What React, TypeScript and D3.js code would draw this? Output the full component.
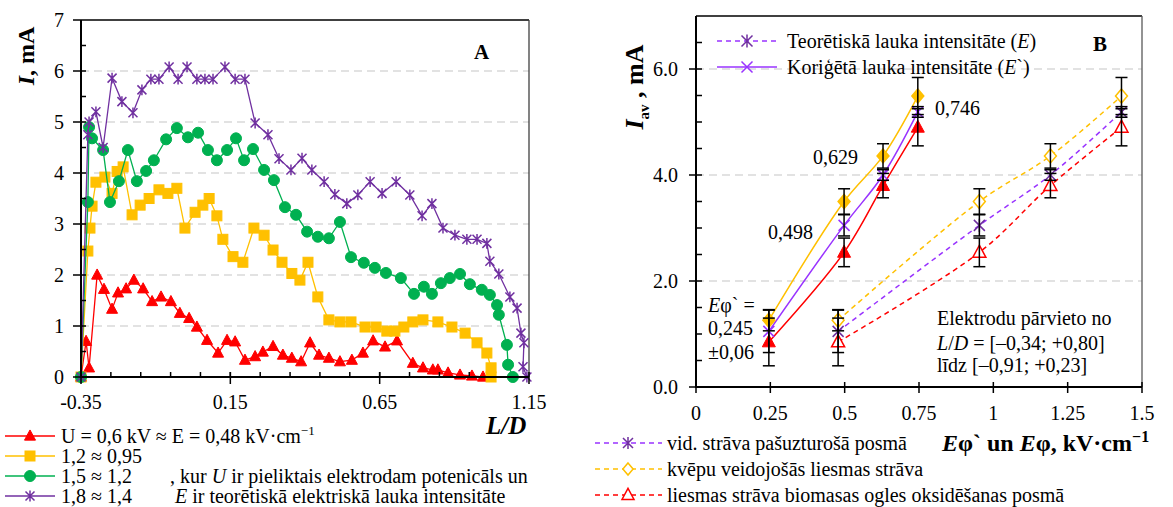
import * as d3 from 'd3';

const W = 1173;
const H = 507;
const FONT = '"Liberation Serif", "Times New Roman", serif';

// ---- panel A: I vs L/D, four voltages ----
const red06: [number, number][] = [
  [-0.35, 0], [-0.333, 0.7], [-0.323, 0.18], [-0.296, 2.0], [-0.273, 1.72], [-0.246, 1.33],
  [-0.226, 1.65], [-0.199, 1.73], [-0.173, 1.9], [-0.142, 1.73], [-0.112, 1.48], [-0.082, 1.57],
  [-0.049, 1.48], [-0.019, 1.25], [0.012, 1.15], [0.038, 0.98], [0.072, 0.72], [0.109, 0.47],
  [0.139, 0.72], [0.166, 0.69], [0.199, 0.33], [0.233, 0.4], [0.259, 0.49], [0.293, 0.6],
  [0.326, 0.43], [0.356, 0.37], [0.387, 0.3], [0.417, 0.67], [0.447, 0.43], [0.48, 0.37],
  [0.517, 0.3], [0.557, 0.33], [0.594, 0.47], [0.628, 0.71], [0.668, 0.59], [0.708, 0.71],
  [0.761, 0.27], [0.795, 0.18], [0.828, 0.14], [0.845, 0.14], [0.879, 0.08], [0.919, 0.04],
  [0.959, 0.02], [0.996, 0],
];
const yel12: [number, number][] = [
  [-0.35, 0], [-0.327, 2.47], [-0.32, 2.92], [-0.313, 3.35], [-0.3, 3.82], [-0.27, 3.92],
  [-0.246, 3.6], [-0.229, 4.03], [-0.209, 4.12], [-0.179, 3.18], [-0.152, 3.37], [-0.122, 3.5],
  [-0.089, 3.67], [-0.059, 3.6], [-0.029, 3.7], [-0.002, 2.92], [0.032, 3.23], [0.058, 3.37],
  [0.079, 3.5], [0.105, 3.16], [0.125, 2.7], [0.159, 2.36], [0.192, 2.25], [0.229, 2.92],
  [0.263, 2.78], [0.293, 2.49], [0.323, 2.25], [0.356, 2.03], [0.383, 1.9], [0.41, 2.25],
  [0.443, 1.57], [0.48, 1.12], [0.517, 1.08], [0.554, 1.08], [0.601, 0.98], [0.638, 0.98],
  [0.674, 0.9], [0.701, 0.9], [0.731, 0.98], [0.761, 1.08], [0.795, 1.12], [0.845, 1.08],
  [0.892, 0.98], [0.936, 0.86], [0.976, 0.67], [1.009, 0.47], [1.023, 0.18], [1.023, 0],
];
const grn15: [number, number][] = [
  [-0.35, 0], [-0.327, 3.43], [-0.323, 4.9], [-0.313, 4.68], [-0.276, 4.45], [-0.253, 3.43],
  [-0.223, 3.84], [-0.193, 4.45], [-0.163, 3.84], [-0.132, 4.04], [-0.106, 4.25], [-0.065, 4.66],
  [-0.029, 4.88], [0.008, 4.7], [0.042, 4.79], [0.075, 4.45], [0.105, 4.25], [0.139, 4.45],
  [0.169, 4.68], [0.196, 4.25], [0.226, 4.47], [0.263, 4.06], [0.296, 3.86], [0.333, 3.33],
  [0.37, 3.18], [0.407, 2.85], [0.443, 2.75], [0.48, 2.72], [0.517, 3.04], [0.554, 2.35],
  [0.597, 2.24], [0.634, 2.14], [0.671, 2.04], [0.721, 1.94], [0.765, 1.63], [0.798, 1.77],
  [0.825, 1.63], [0.855, 1.84], [0.885, 1.94], [0.919, 2.02], [0.952, 1.82], [0.992, 1.71],
  [1.019, 1.61], [1.043, 1.41], [1.049, 1.22], [1.076, 0.63], [1.08, 0.24], [1.096, 0],
];
const pur18: [number, number][] = [
  [-0.35, 0], [-0.327, 4.75], [-0.323, 5.0], [-0.3, 5.2], [-0.276, 4.5], [-0.246, 5.86],
  [-0.213, 5.4], [-0.176, 5.18], [-0.146, 5.63], [-0.116, 5.84], [-0.089, 5.84], [-0.055, 6.08],
  [-0.025, 5.84], [0.005, 6.08], [0.038, 5.84], [0.065, 5.84], [0.092, 5.84], [0.132, 6.08],
  [0.166, 5.84], [0.199, 5.84], [0.233, 4.98], [0.276, 4.75], [0.313, 4.28], [0.353, 4.06],
  [0.39, 4.29], [0.423, 4.06], [0.464, 3.83], [0.5, 3.58], [0.54, 3.4], [0.577, 3.57],
  [0.618, 3.83], [0.658, 3.6], [0.705, 3.83], [0.751, 3.57], [0.792, 3.16], [0.825, 3.4],
  [0.862, 2.92], [0.902, 2.78], [0.942, 2.7], [0.976, 2.7], [1.009, 2.62], [1.019, 2.27],
  [1.049, 2.02], [1.086, 1.57], [1.11, 1.35], [1.123, 0.86], [1.133, 0.67], [1.13, 0.2],
  [1.143, 0],
];
const xTicksA = [-0.35, 0.15, 0.65, 1.15];
const xLabelsA = ['-0.35', '0.15', '0.65', '1.15'];
const yTicksA = [0, 1, 2, 3, 4, 5, 6, 7];

// ---- panel B: I_av vs E-phi ----
const ePhiCorr = [0.245, 0.498, 0.629, 0.746];
const ePhiTheor = [0.478, 0.953, 1.192, 1.431];
const iSoot = [1.26, 3.5, 4.36, 5.49];
const iAvg = [1.05, 3.05, 4.0, 5.19];
const iOxid = [0.85, 2.54, 3.8, 4.9];
const errSoot = [0.2, 0.24, 0.23, 0.35];
const errAvg = [0.4, 0.2, 0.1, 0.1];
const errOxid = [0.45, 0.27, 0.23, 0.35];
const xTicksB = [0, 0.25, 0.5, 0.75, 1, 1.25, 1.5];
const xLabelsB = ['0', '0.25', '0.5', '0.75', '1', '1.25', '1.5'];
const yTicksB = [0, 2, 4, 6];
const yLabelsB = ['0.0', '2.0', '4.0', '6.0'];

const RED = '#FF0000';
const YEL = '#FFC000';
const GRN = '#00B050';
const PUR = '#7030A0';
const VIO = '#9933FF';
const GRID = '#D9D9D9';

const xA = d3.scaleLinear().domain([-0.35, 1.15]).range([81, 529]);
const yA = d3.scaleLinear().domain([0, 7]).range([377, 20]);
const xB = d3.scaleLinear().domain([0, 1.5]).range([696, 1142]);
const yB = d3.scaleLinear().domain([0, 7]).range([387, 16]);

type MType = 'tri' | 'sq' | 'circ' | 'star' | 'x' | 'diam';

function Marker({ t, x, y, c, s, hollow }: { t: MType; x: number; y: number; c: string; s: number; hollow?: boolean }) {
  const fill = hollow ? '#fff' : c;
  const h = s / 2;
  if (t === 'tri') {
    return <path d={`M${x},${y - h * 1.1}L${x + h},${y + h * 0.75}L${x - h},${y + h * 0.75}Z`} fill={fill} stroke={c} strokeWidth={hollow ? 1.5 : 1} />;
  }
  if (t === 'sq') return <rect x={x - h} y={y - h} width={s} height={s} fill={fill} stroke={c} />;
  if (t === 'circ') return <circle cx={x} cy={y} r={h} fill={fill} stroke={c} />;
  if (t === 'diam') {
    return <path d={`M${x},${y - h}L${x + h * 0.85},${y}L${x},${y + h}L${x - h * 0.85},${y}Z`} fill={fill} stroke={c} strokeWidth={1.5} />;
  }
  const d = `M${x - h},${y - h}L${x + h},${y + h}M${x - h},${y + h}L${x + h},${y - h}` + (t === 'star' ? `M${x},${y - h * 1.2}L${x},${y + h * 1.2}` : '');
  return <path d={d} stroke={c} strokeWidth={1.5} fill="none" />;
}

const lineA = d3.line<[number, number]>().x(d => xA(d[0])).y(d => yA(d[1]));

export default function App() {
  const seriesA: { data: [number, number][]; c: string; t: MType; s: number }[] = [
    { data: red06, c: RED, t: 'tri', s: 11 },
    { data: yel12, c: YEL, t: 'sq', s: 10 },
    { data: grn15, c: GRN, t: 'circ', s: 11 },
    { data: pur18, c: PUR, t: 'star', s: 9 },
  ];
  const legRowsA = [436, 456, 476, 496];

  const lineB = d3.line<number>().curve(d3.curveCatmullRom.alpha(0.5));
  const seriesB = [
    { v: iSoot, e: errSoot, c: YEL, t: 'diam' as MType, s: 14 },
    { v: iAvg, e: errAvg, c: VIO, t: 'x' as MType, s: 11 },
    { v: iOxid, e: errOxid, c: RED, t: 'tri' as MType, s: 13 },
  ];
  const pathB = (xs: number[], vs: number[]) =>
    lineB.x((_, i) => xB(xs[i])).y(d => yB(d))(vs) || '';

  const minorA = d3.range(0, 14).map(i => -0.35 + i * 0.1);
  const minorYA = d3.range(0, 14).map(i => 0.5 + i * 0.5).filter(v => v < 7);
  const minorYB = d3.range(1, 14).map(i => i * 0.5);

  return (
    <svg width={W} height={H} style={{ position: 'absolute', left: 0, top: 0, background: '#fff' }} fontFamily={FONT}>
      {/* ===== Panel A ===== */}
      {yTicksA.filter(v => v > 0 && v < 7).map(v => (
        <line key={'ga' + v} x1={xA(-0.35)} x2={xA(1.15)} y1={yA(v)} y2={yA(v)} stroke={GRID} strokeWidth={1.5} strokeDasharray="8,5" />
      ))}
      <line x1={81} x2={529} y1={yA(7)} y2={yA(7)} stroke="#000" strokeWidth={1.3} />
      <line x1={xA(1.15)} x2={xA(1.15)} y1={yA(7)} y2={yA(0)} stroke="#404040" strokeWidth={1.3} />
      {seriesA.map((s, i) => (
        <g key={'sa' + i}>
          <path d={lineA(s.data) || ''} fill="none" stroke={s.c} strokeWidth={1.3} />
          {s.data.map((d, j) => <Marker key={j} t={s.t} x={xA(d[0])} y={yA(d[1])} c={s.c} s={s.s} />)}
        </g>
      ))}
      <line x1={xA(-0.35)} x2={xA(-0.35)} y1={yA(7)} y2={yA(0) + 1} stroke="#000" strokeWidth={2} />
      <line x1={xA(-0.35) - 1} x2={xA(1.15)} y1={yA(0)} y2={yA(0)} stroke="#000" strokeWidth={2} />
      {yTicksA.map(v => (
        <g key={'ya' + v}>
          <line x1={xA(-0.35) - 8} x2={xA(-0.35)} y1={yA(v)} y2={yA(v)} stroke="#000" strokeWidth={1.5} />
          <text x={64} y={yA(v) + 7} fontSize={20} textAnchor="end">{v}</text>
        </g>
      ))}
      {minorYA.map(v => (
        <line key={'mya' + v} x1={xA(-0.35)} x2={xA(-0.35) + 5} y1={yA(v)} y2={yA(v)} stroke="#000" strokeWidth={1.5} />
      ))}
      {minorA.map(v => (
        <line key={'mxa' + v} x1={xA(v)} x2={xA(v)} y1={yA(0) - 5} y2={yA(0)} stroke="#000" strokeWidth={1.5} />
      ))}
      {xTicksA.map((v, i) => (
        <g key={'xa' + v}>
          <line x1={xA(v)} x2={xA(v)} y1={yA(0) - 5} y2={yA(0) + 7} stroke="#000" strokeWidth={1.5} />
          <text x={xA(v)} y={409} fontSize={20} textAnchor="middle">{xLabelsA[i]}</text>
        </g>
      ))}
      <text x={474} y={59} fontSize={21} fontWeight="bold">A</text>
      <text x={34} y={56} fontSize={24} fontWeight="bold" textAnchor="middle" transform="rotate(-90,34,56)">
        <tspan fontStyle="italic">I</tspan>, mA
      </text>
      <text x={486} y={434} fontSize={25} fontWeight="bold" fontStyle="italic">L/D</text>

      {/* legend A */}
      {seriesA.map((s, i) => {
        const y = legRowsA[i];
        return (
          <g key={'la' + i}>
            <line x1={5} x2={55} y1={y} y2={y} stroke={s.c} strokeWidth={1.5} />
            <Marker t={s.t} x={30} y={y} c={s.c} s={s.s} />
          </g>
        );
      })}
      <text x={61} y={legRowsA[0] + 7} fontSize={20}>U = 0,6 kV ≈ E = 0,48 kV·cm<tspan dy={-8} fontSize={13}>−1</tspan></text>
      <text x={61} y={legRowsA[1] + 7} fontSize={20}>1,2 ≈ 0,95</text>
      <text x={61} y={legRowsA[2] + 7} fontSize={20}>1,5 ≈ 1,2</text>
      <text x={61} y={legRowsA[3] + 7} fontSize={20}>1,8 ≈ 1,4</text>
      <text x={170} y={legRowsA[2] + 7} fontSize={20}>, kur <tspan fontStyle="italic">U</tspan> ir pieliktais elektrodam potenicāls un</text>
      <text x={175} y={legRowsA[3] + 7} fontSize={20}><tspan fontStyle="italic">E</tspan> ir teorētiskā elektriskā lauka intensitāte</text>

      {/* ===== Panel B ===== */}
      {yTicksB.filter(v => v > 0).map(v => (
        <line key={'gb' + v} x1={xB(0)} x2={xB(1.5)} y1={yB(v)} y2={yB(v)} stroke={GRID} strokeWidth={1.5} strokeDasharray="8,5" />
      ))}
      <line x1={696} x2={1142} y1={yB(7)} y2={yB(7)} stroke="#000" strokeWidth={1.3} />
      <line x1={xB(1.5)} x2={xB(1.5)} y1={yB(7)} y2={yB(0)} stroke="#595959" strokeWidth={1.3} />
      {seriesB.map((s, i) => (
        <g key={'lb' + i}>
          <path d={pathB(ePhiCorr, s.v)} fill="none" stroke={s.c} strokeWidth={1.5} />
          <path d={pathB(ePhiTheor, s.v)} fill="none" stroke={s.c} strokeWidth={1.5} strokeDasharray="5,4" />
        </g>
      ))}
      {seriesB.map((s, i) => (
        <g key={'mb' + i}>
          {s.v.map((v, j) => <Marker key={'c' + j} t={s.t} x={xB(ePhiCorr[j])} y={yB(v)} c={s.c} s={s.s} />)}
          {s.v.map((v, j) => (
            <Marker key={'t' + j} t={s.t === 'x' ? 'star' : s.t} x={xB(ePhiTheor[j])} y={yB(v)} c={s.t === 'x' ? PUR : s.c} s={s.s} hollow={s.t !== 'x'} />
          ))}
        </g>
      ))}
      {seriesB.map((s, i) => (
        <g key={'eb' + i}>
          {[...ePhiCorr, ...ePhiTheor].map((e, j) => {
            const v = s.v[j % 4];
            const er = s.e[j % 4];
            const cx = xB(e);
            return (
              <g key={j}>
                <line x1={cx} x2={cx} y1={yB(v + er)} y2={yB(v - er)} stroke="#000" strokeWidth={1.5} />
                <line x1={cx - 6} x2={cx + 6} y1={yB(v + er)} y2={yB(v + er)} stroke="#000" strokeWidth={1.5} />
                <line x1={cx - 6} x2={cx + 6} y1={yB(v - er)} y2={yB(v - er)} stroke="#000" strokeWidth={1.5} />
              </g>
            );
          })}
        </g>
      ))}
      <line x1={xB(0)} x2={xB(0)} y1={yB(7)} y2={yB(0) + 1} stroke="#000" strokeWidth={2} />
      <line x1={xB(0) - 1} x2={xB(1.5)} y1={yB(0)} y2={yB(0)} stroke="#000" strokeWidth={2} />
      {yTicksB.map((v, i) => (
        <g key={'yb' + v}>
          <line x1={xB(0) - 7} x2={xB(0)} y1={yB(v)} y2={yB(v)} stroke="#000" strokeWidth={1.5} />
          <text x={678} y={yB(v) + 7} fontSize={20} textAnchor="end">{yLabelsB[i]}</text>
        </g>
      ))}
      {minorYB.map(v => (
        <line key={'myb' + v} x1={xB(0)} x2={xB(0) + 6} y1={yB(v)} y2={yB(v)} stroke="#000" strokeWidth={1.5} />
      ))}
      {xTicksB.map((v, i) => (
        <g key={'xb' + v}>
          <line x1={xB(v)} x2={xB(v)} y1={yB(0) - 5} y2={yB(0) + 6} stroke="#000" strokeWidth={1.5} />
          <text x={xB(v)} y={420} fontSize={20} textAnchor="middle">{xLabelsB[i]}</text>
        </g>
      ))}
      <text x={1093} y={51} fontSize={21} fontWeight="bold">B</text>
      <text x={643} y={87} fontSize={26} fontWeight="bold" textAnchor="middle" transform="rotate(-90,643,87)">
        <tspan fontStyle="italic">I</tspan><tspan fontSize={15} dy={6}>av</tspan><tspan dy={-6}> , mA</tspan>
      </text>
      <text x={942} y={451} fontSize={24} fontWeight="bold">
        <tspan fontStyle="italic">E</tspan>φ` un <tspan fontStyle="italic">E</tspan>φ, kV·cm<tspan dy={-9} fontSize={16}>−1</tspan>
      </text>

      {/* legend inside B */}
      <line x1={717} x2={777} y1={41} y2={41} stroke={VIO} strokeWidth={1.5} strokeDasharray="5,4" />
      <Marker t="star" x={747} y={41} c={PUR} s={11} />
      <text x={787} y={48} fontSize={20}>Teorētiskā lauka intensitāte (<tspan fontStyle="italic">E</tspan>)</text>
      <line x1={717} x2={777} y1={67} y2={67} stroke={VIO} strokeWidth={1.5} />
      <Marker t="x" x={747} y={67} c={VIO} s={11} />
      <text x={787} y={74} fontSize={20}>Koriģētā lauka intensitāte (<tspan fontStyle="italic">E</tspan>`)</text>

      {/* annotations B */}
      <text x={768} y={239} fontSize={20}>0,498</text>
      <text x={813} y={164} fontSize={20}>0,629</text>
      <text x={935} y={115} fontSize={20}>0,746</text>
      <text x={708} y={312} fontSize={20}><tspan fontStyle="italic">E</tspan>φ` =</text>
      <text x={708} y={335} fontSize={20}>0,245</text>
      <text x={708} y={359} fontSize={20}>±0,06</text>
      <text x={937} y={325} fontSize={20}>Elektrodu pārvieto no</text>
      <text x={937} y={350} fontSize={20}><tspan fontStyle="italic">L</tspan>/<tspan fontStyle="italic">D</tspan> = [–0,34; +0,80]</text>
      <text x={937} y={372} fontSize={20}>līdz [–0,91; +0,23]</text>

      {/* legend below B */}
      <line x1={595} x2={662} y1={443} y2={443} stroke={VIO} strokeWidth={1.5} strokeDasharray="5,4" />
      <Marker t="star" x={628} y={443} c={PUR} s={10} />
      <text x={667} y={450} fontSize={20}>vid. strāva pašuzturošā posmā</text>
      <line x1={595} x2={662} y1={469} y2={469} stroke={YEL} strokeWidth={1.5} strokeDasharray="5,4" />
      <Marker t="diam" x={628} y={469} c={YEL} s={12} hollow />
      <text x={667} y={476} fontSize={20}>kvēpu veidojošās liesmas strāva</text>
      <line x1={595} x2={662} y1={495} y2={495} stroke={RED} strokeWidth={1.5} strokeDasharray="5,4" />
      <Marker t="tri" x={628} y={495} c={RED} s={12} hollow />
      <text x={667} y={502} fontSize={20}>liesmas strāva biomasas ogles oksidēšanas posmā</text>
    </svg>
  );
}
